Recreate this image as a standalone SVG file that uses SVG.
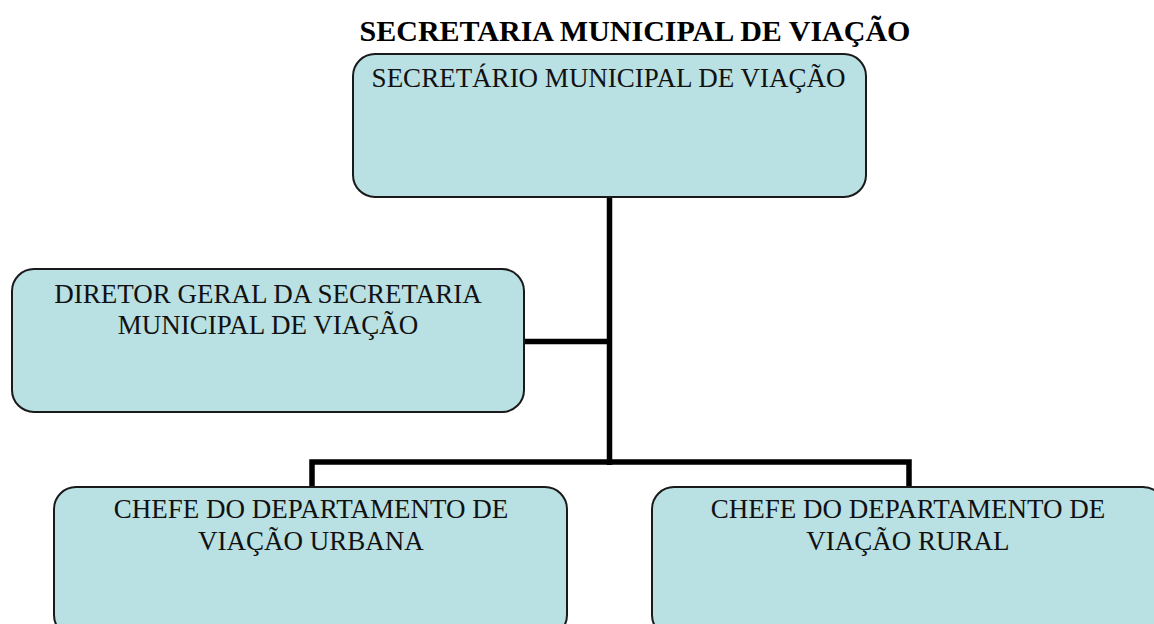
<svg xmlns="http://www.w3.org/2000/svg" width="1154" height="624" viewBox="0 0 1154 624">
<style>
.box{fill:#b9e0e3;stroke:#1a1a1a;stroke-width:2}
.t{font-family:"Liberation Serif","Times New Roman",serif;font-size:27px;fill:#111;text-anchor:middle}
.title{font-family:"Liberation Serif","Times New Roman",serif;font-size:30px;font-weight:bold;fill:#000;text-anchor:middle}
.c{fill:none;stroke:#000;stroke-width:5.5}
</style>
<rect width="1154" height="624" fill="#fff"/>
<text class="title" x="635" y="41">SECRETARIA MUNICIPAL DE VIAÇÃO</text>
<g id="connectors">
<path class="c" d="M609.5 197 V465"/>
<path class="c" d="M524 341.5 H609.5"/>
<path class="c" d="M312 487 V462 H909 V487"/>
</g>
<g id="secretario">
<rect class="box" x="353" y="54" width="513" height="143" rx="22"/>
<text class="t" x="608.5" y="87">SECRETÁRIO MUNICIPAL DE VIAÇÃO</text>
</g>
<g id="diretor">
<rect class="box" x="12" y="269" width="512" height="143" rx="22"/>
<text class="t" x="268" y="303">DIRETOR GERAL DA SECRETARIA</text>
<text class="t" x="268" y="334">MUNICIPAL DE VIAÇÃO</text>
</g>
<g id="chefe-urbana">
<rect class="box" x="54" y="487" width="513" height="150" rx="22"/>
<text class="t" x="311" y="518">CHEFE DO DEPARTAMENTO DE</text>
<text class="t" x="311" y="550">VIAÇÃO URBANA</text>
</g>
<g id="chefe-rural">
<rect class="box" x="652" y="487" width="513" height="150" rx="22"/>
<text class="t" x="908" y="518">CHEFE DO DEPARTAMENTO DE</text>
<text class="t" x="908" y="550">VIAÇÃO RURAL</text>
</g>
</svg>
